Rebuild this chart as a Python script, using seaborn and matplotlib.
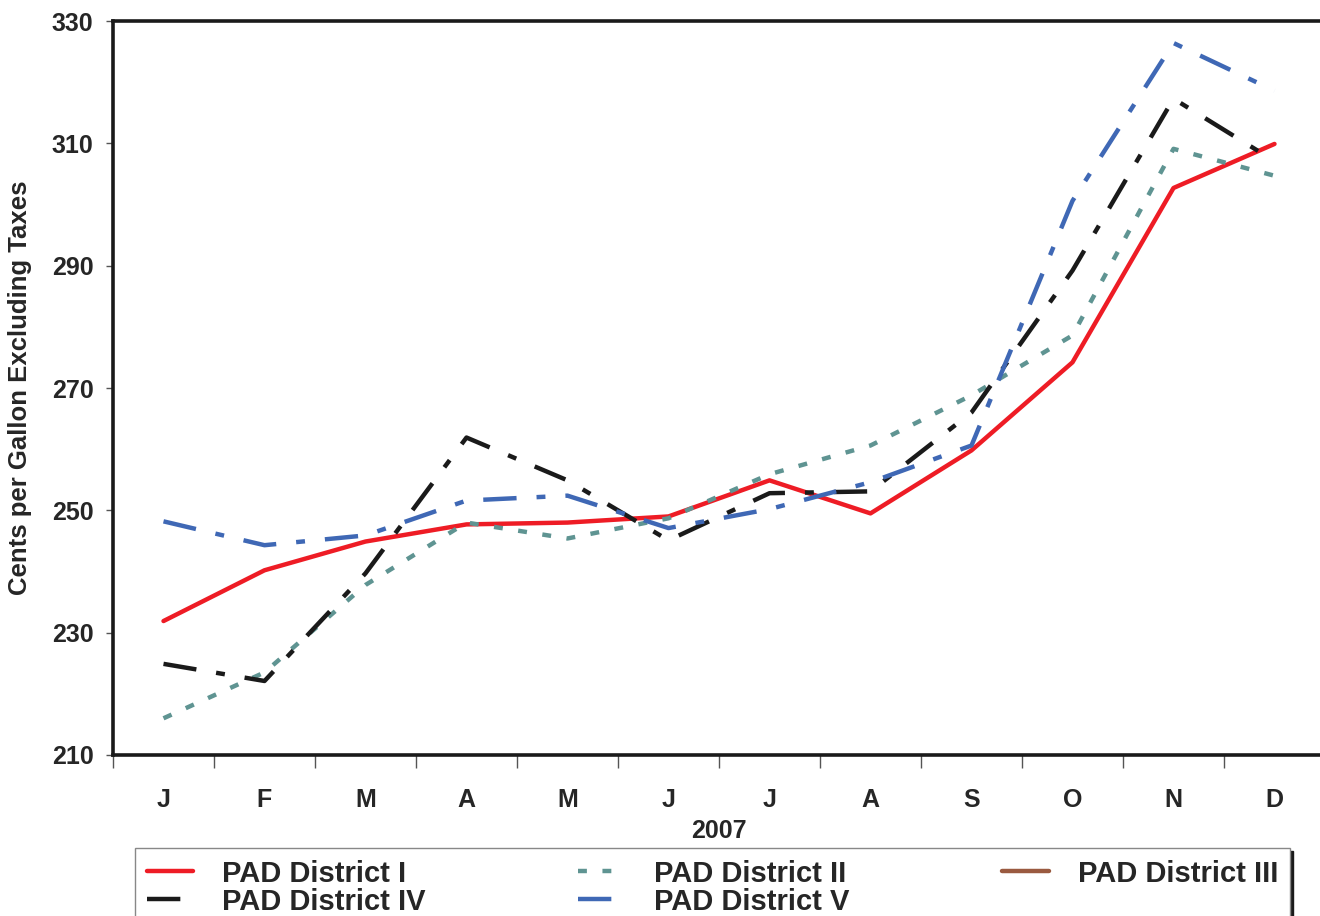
#!/usr/bin/env python3
"""Monthly prices by PAD district, 2007."""

import matplotlib.pyplot as plt
import numpy as np
import pandas as pd
import seaborn as sns
from matplotlib.lines import Line2D

MONTHS = ["J", "F", "M", "A", "M", "J", "J", "A", "S", "O", "N", "D"]
PAD_I = [231.9, 240.2, 244.9, 247.7, 248.0, 249.0, 254.9, 249.5, 259.8, 274.2, 302.7, 309.9]
PAD_II = [216.0, 223.5, 237.8, 248.0, 245.4, 248.7, 255.9, 260.6, 268.8, 278.6, 309.1, 304.7]
PAD_IV = [224.9, 222.1, 239.7, 261.9, 254.9, 245.1, 252.8, 253.1, 266.0, 289.2, 317.3, 307.1]
PAD_V = [248.2, 244.3, 245.9, 251.6, 252.4, 247.1, 250.2, 254.6, 260.6, 300.6, 326.4, 318.6]

sns.set_theme(style="white")
plt.rcParams["font.family"] = ["Liberation Sans", "DejaVu Sans"]
plt.rcParams["font.weight"] = "bold"

fig = plt.figure(figsize=(13.2, 9.16), dpi=100)
ax = fig.add_axes([113 / 1320, 1 - 755 / 916, (1325 - 113) / 1320, (755 - 21) / 916])

x = np.arange(len(MONTHS))
series = [
    ("PAD District I", PAD_I, "#ee1c25", "-"),
    ("PAD District II", PAD_II, "#5f9492", (0, (2, 3.5))),
    ("PAD District IV", PAD_IV, "#1a1a1a", (0, (7.5, 4.5, 2, 4.5))),
    ("PAD District V", PAD_V, "#3f68b5", (0, (7.5, 4.5, 2, 4.5))),
]
handles = {}
for name, vals, color, ls in series:
    df = pd.DataFrame({"month": x, "value": vals})
    sns.lineplot(data=df, x="month", y="value", ax=ax, color=color,
                 linestyle=ls, linewidth=3.2, legend=False)
    handles[name] = Line2D([], [], color=color, linewidth=3.2, linestyle=ls)
handles["PAD District III"] = Line2D([], [], color="#9a5a40", linewidth=3.2)

ax.set_xlim(-0.5, 11.5)
ax.set_ylim(210, 330)
ax.set_yticks(np.arange(210, 331, 20))
ax.set_xticks(x)
ax.set_xticklabels(MONTHS)
ax.set_xticks(np.arange(-0.5, 11.6, 1), minor=True)
ax.tick_params(axis="x", which="major", length=0, pad=24, labelsize=18)
ax.tick_params(axis="x", which="minor", length=9, width=1, color="#555555",
               direction="out", bottom=True)
ax.tick_params(axis="y", length=5, width=1, color="#555555", direction="out",
               left=True, labelsize=18, pad=9)
for lab in ax.get_xticklabels() + ax.get_yticklabels():
    lab.set_fontweight("bold")

ax.set_xlabel("2007", fontsize=18, fontweight="bold", labelpad=5)
ax.set_ylabel("Cents per Gallon Excluding Taxes", fontsize=18.5,
              fontweight="bold", labelpad=14)

for side in ["left", "bottom", "top"]:
    ax.spines[side].set_linewidth(2.6)
    ax.spines[side].set_color("#1a1a1a")
ax.spines["right"].set_visible(False)

order = ["PAD District I", "PAD District IV", "PAD District II",
         "PAD District V", "PAD District III"]
leg = fig.legend([handles[k] for k in order], order, loc="upper left",
                 bbox_to_anchor=(135 / 1320, 1 - 848 / 916, (1290 - 135) / 1320, 0.0),
                 mode="expand", ncol=3, frameon=True, fancybox=False,
                 shadow={"color": "#1a1a1a", "alpha": 1}, borderaxespad=0,
                 handlelength=1.6, handletextpad=1.0, labelspacing=0.0,
                 borderpad=0.4, prop={"weight": "bold", "size": 21})
leg.get_frame().set_edgecolor("#888888")
leg.get_frame().set_linewidth(1)

fig.savefig("out.png", dpi=100, facecolor="white")
